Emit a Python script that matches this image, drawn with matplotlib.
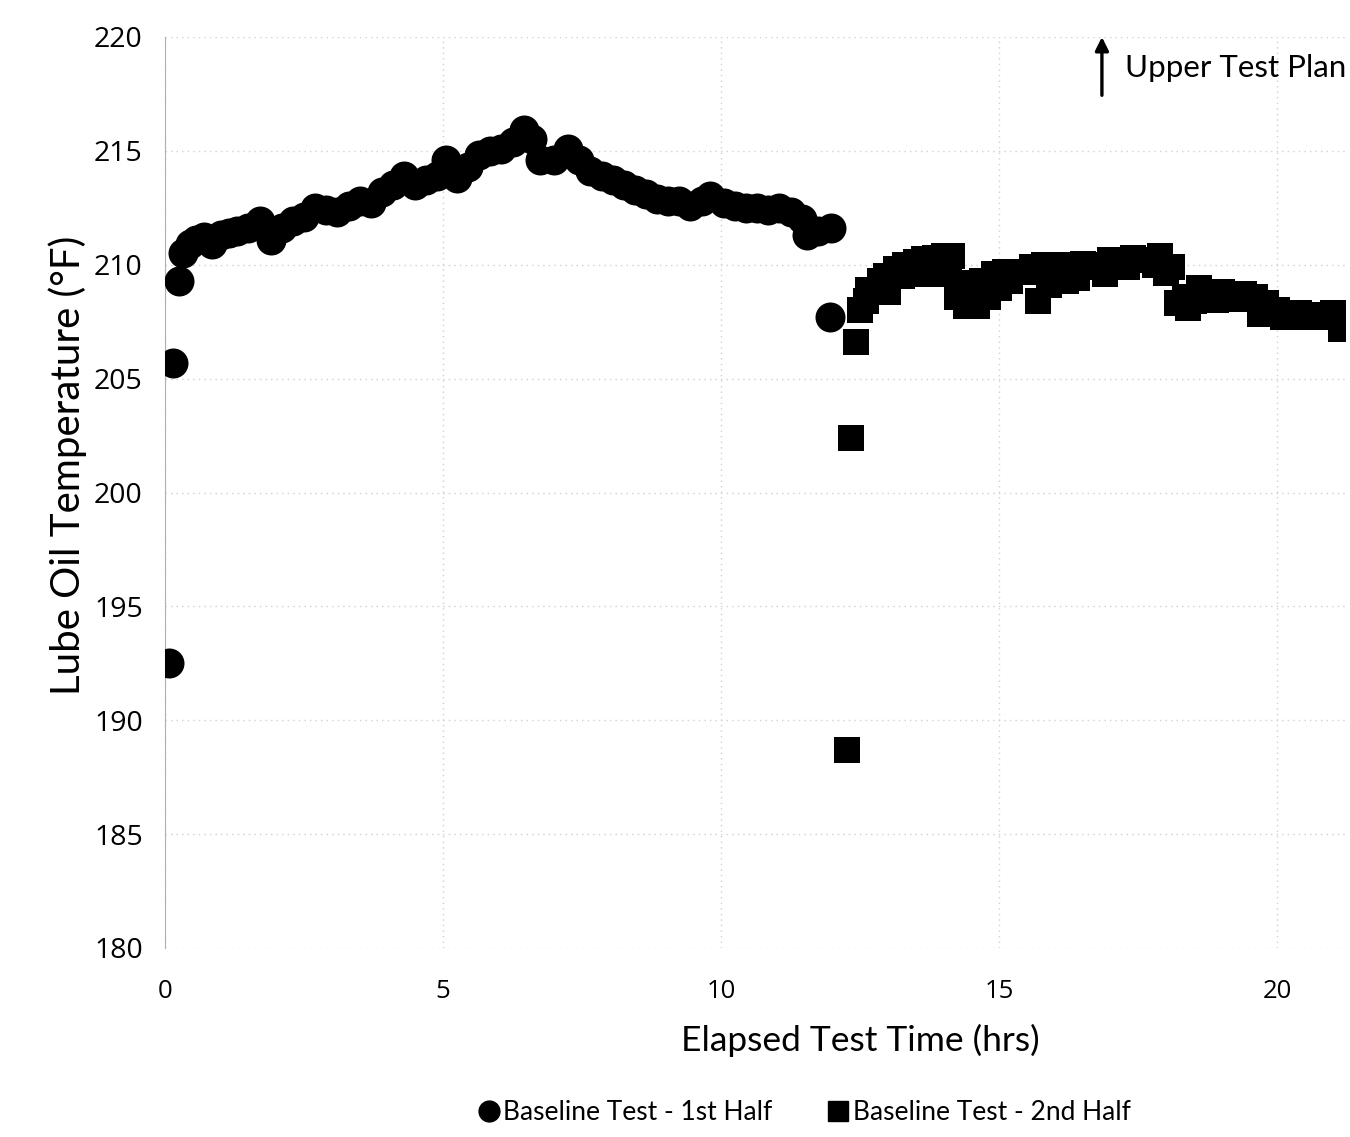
"""Lube oil temperature over elapsed test time, baseline test in two halves."""

import matplotlib.pyplot as plt
from matplotlib.lines import Line2D

# Baseline Test - 1st Half (hrs, degF)
t_first = [0.08, 0.15, 0.25, 0.33, 0.45, 0.55, 0.7, 0.85, 1.0, 1.15, 1.3, 1.5,
           1.7, 1.9, 2.1, 2.3, 2.5, 2.7, 2.9, 3.1, 3.3, 3.5, 3.7, 3.9, 4.1,
           4.3, 4.5, 4.7, 4.9, 5.05, 5.25, 5.45, 5.65, 5.85, 6.05, 6.25, 6.45,
           6.6, 6.75, 7.0, 7.25, 7.45, 7.65, 7.85, 8.05, 8.25, 8.45, 8.65, 8.85,
           9.05, 9.25, 9.45, 9.65, 9.8, 10.05, 10.25, 10.45, 10.65, 10.85,
           11.05, 11.25, 11.45, 11.55, 11.75, 11.97, 11.96]
temp_first = [192.5, 205.7, 209.3, 210.5, 210.9, 211.1, 211.2, 210.9, 211.3,
              211.4, 211.5, 211.6, 211.9, 211.1, 211.6, 211.9, 212.1, 212.5,
              212.4, 212.3, 212.6, 212.8, 212.7, 213.2, 213.5, 213.9, 213.5,
              213.7, 213.9, 214.6, 213.8, 214.3, 214.8, 215.0, 215.1, 215.4,
              215.9, 215.5, 214.6, 214.6, 215.1, 214.6, 214.1, 213.9, 213.7,
              213.5, 213.3, 213.1, 212.9, 212.8, 212.8, 212.6, 212.8, 213.0,
              212.7, 212.6, 212.5, 212.5, 212.4, 212.5, 212.3, 212.0, 211.3,
              211.5, 211.6, 207.7]

# Baseline Test - 2nd Half (hrs, degF)
t_second = [12.26, 12.34, 12.43, 12.5, 12.6, 12.65, 12.77, 12.85, 12.97, 13.0,
            13.15, 13.25, 13.3, 13.45, 13.5, 13.65, 13.75, 13.85, 14.0, 14.1,
            14.15, 14.25, 14.3, 14.4, 14.5, 14.6, 14.7, 14.8, 14.9, 15.0, 15.1,
            15.2, 15.35, 15.55, 15.6, 15.7, 15.8, 15.9, 16.0, 16.1, 16.2, 16.4,
            16.5, 16.6, 16.8, 16.9, 17.0, 17.2, 17.3, 17.4, 17.6, 17.8, 17.9,
            18.0, 18.1, 18.2, 18.35, 18.4, 18.5, 18.6, 18.8, 18.9, 19.0, 19.2,
            19.3, 19.4, 19.6, 19.7, 19.8, 20.0, 20.1, 20.2, 20.4, 20.5, 20.6,
            20.8, 20.9, 21.0, 21.15]
temp_second = [188.7, 202.4, 206.6, 208.0, 208.4, 208.9, 208.9, 209.3, 209.5,
               208.8, 209.8, 209.5, 210.0, 209.6, 210.1, 210.25, 209.6, 210.3,
               210.4, 209.6, 210.4, 208.6, 208.9, 208.2, 209.2, 208.2, 209.3,
               208.6, 209.6, 209.0, 209.7, 209.3, 209.7, 209.7, 209.9, 208.4,
               210.0, 209.1, 209.3, 210.0, 209.3, 209.4, 210.05, 209.9, 210.0,
               209.6, 210.2, 210.1, 209.9, 210.3, 210.2, 210.0, 210.4, 209.65,
               209.9, 208.3, 208.6, 208.1, 208.4, 209.0, 208.8, 208.45, 208.8,
               208.7, 208.5, 208.7, 208.6, 207.85, 208.3, 208.0, 207.7, 207.9,
               207.9, 207.7, 207.8, 207.8, 207.7, 207.9, 207.2]

x_ticks = [0, 5, 10, 15, 20]
y_ticks = [180, 185, 190, 195, 200, 205, 210, 215, 220]

LABEL_FONT = "Lato"
TICK_FONT = "Open Sans"

W, H = 1350, 1137
fig = plt.figure(figsize=(W / 100, H / 100), dpi=100)
ax = fig.add_axes([165 / W, 1 - 948 / H, 1180 / W, 911 / H])

ax.scatter(t_first, temp_first, marker="o", s=21.6 ** 2, color="black",
           linewidths=0, zorder=3)
ax.scatter(t_second, temp_second, marker="s", s=19.4 ** 2, color="black",
           linewidths=0, zorder=3)

ax.set_xlim(0, 21.22)
ax.set_ylim(180, 220)
ax.set_xticks(x_ticks)
ax.set_yticks(y_ticks)
ax.tick_params(axis="x", length=0, labelsize=18.5, pad=22)
ax.tick_params(axis="y", length=0, labelsize=20.5, pad=16)
for lab in ax.get_xticklabels() + ax.get_yticklabels():
    lab.set_fontfamily(TICK_FONT)

ax.grid(True, color="#d0d0d0", linestyle=(0, (1, 3)), linewidth=1)
ax.set_axisbelow(True)
for side in ("top", "right", "bottom"):
    ax.spines[side].set_visible(False)
ax.spines["left"].set_color("#b0b0b0")
ax.spines["left"].set_linestyle((0, (2, 1)))

ax.set_xlabel("Elapsed Test Time (hrs)", fontsize=25.5, family=LABEL_FONT)
ax.xaxis.set_label_coords(0.589, -0.083)
ax.set_ylabel("Lube Oil Temperature (°F)", fontsize=29, family=LABEL_FONT)
ax.yaxis.set_label_coords(-0.066, 0.53)

# arrow + note in the top right corner
ax.annotate("", xy=(0.794, 1.0), xytext=(0.794, 0.936),
            xycoords="axes fraction",
            arrowprops=dict(arrowstyle="-|>", color="black", lw=2.4,
                            mutation_scale=20, shrinkA=0, shrinkB=0))
ax.text(0.8136, 0.966, "Upper Test Plan", transform=ax.transAxes,
        fontsize=22.5, family=LABEL_FONT, va="center", ha="left")

handles = [
    Line2D([], [], marker="o", color="black", linestyle="none", markersize=15),
    Line2D([], [], marker="s", color="black", linestyle="none", markersize=14),
]
fig.legend(handles, ["Baseline Test - 1st Half", "Baseline Test - 2nd Half"],
           loc="center", bbox_to_anchor=(803 / W, 1 - 1113 / H), ncols=2,
           frameon=False, handletextpad=0.05, columnspacing=2.0,
           handlelength=1.0, prop={"family": LABEL_FONT, "size": 19})

fig.savefig("out.png", dpi=100)
